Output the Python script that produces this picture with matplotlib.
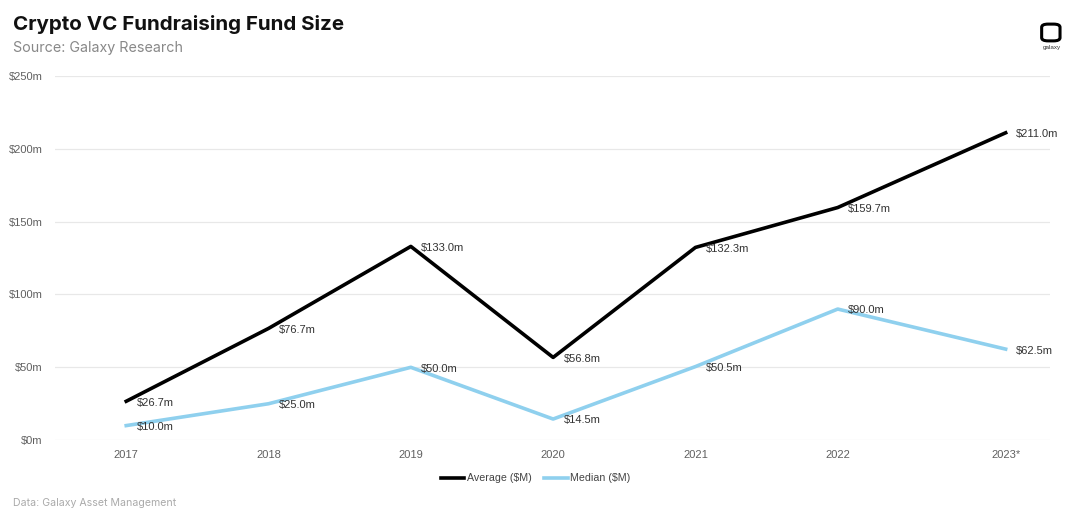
import matplotlib.pyplot as plt
from matplotlib.patches import FancyBboxPatch

years = ["2017", "2018", "2019", "2020", "2021", "2022", "2023*"]
year_pos = [0, 1, 2, 3, 4, 5, 6.18]  # 2023* sits a bit further out in the source
average = [26.7, 76.7, 133.0, 56.8, 132.3, 159.7, 211.0]
median = [10.0, 25.0, 50.0, 14.5, 50.5, 90.0, 62.5]
y_ticks = [0, 50, 100, 150, 200, 250]

plt.rcParams["font.family"] = ["Liberation Sans", "DejaVu Sans"]

fig = plt.figure(figsize=(10.8, 5.24), dpi=100)
ax = fig.add_axes([0.051, 0.160, 0.921, 0.695])

ax.plot(year_pos, average, color="black", lw=2.6, label="Average ($M)", zorder=3)
ax.plot(year_pos, median, color="#8fd0ee", lw=2.6, label="Median ($M)", zorder=3)

for i in range(len(years)):
    ax.annotate("$%.1fm" % average[i], (year_pos[i], average[i]), xytext=(7.5, -1),
                textcoords="offset points", va="center", ha="left",
                fontsize=8, color="#333333", zorder=4)
    ax.annotate("$%.1fm" % median[i], (year_pos[i], median[i]), xytext=(7.5, -1),
                textcoords="offset points", va="center", ha="left",
                fontsize=8, color="#333333", zorder=4)

ax.set_xlim(-0.50, 6.49)
ax.set_ylim(0, 250)
ax.set_xticks(year_pos)
ax.set_xticklabels(years)
ax.set_yticks(y_ticks)
ax.set_yticklabels(["$%dm" % v for v in y_ticks])
ax.tick_params(length=0, labelsize=8, colors="#606060")
ax.tick_params(axis="x", pad=7)
ax.tick_params(axis="y", pad=9)
ax.grid(axis="y", color="#e8e8e8", lw=0.9)
ax.set_axisbelow(True)
for s in ax.spines.values():
    s.set_visible(False)

ax.legend(loc="upper center", bbox_to_anchor=(0.483, -0.065), ncol=2, frameon=False,
          fontsize=7.7, handlelength=2.2, handletextpad=0.2, columnspacing=1.2,
          labelcolor="#444444")

fig.text(0.012, 0.953, "Crypto VC Fundraising Fund Size", fontsize=14.8,
         fontweight="bold", family="Inter", color="#111111", va="center")
fig.text(0.012, 0.908, "Source: Galaxy Research", fontsize=10.3,
         family="Inter", color="#888888", va="center")
fig.text(0.012, 0.04, "Data: Galaxy Asset Management", fontsize=7.6,
         family="Inter", color="#aaaaaa", va="center")

# logo
logo = FancyBboxPatch((0.9675, 0.925), 0.011, 0.026, boxstyle="round,pad=0.003,rounding_size=0.006",
                      transform=fig.transFigure, fill=False, ec="black", lw=2.2)
fig.patches.append(logo)
fig.text(0.9735, 0.910, "galaxy", fontsize=4.5, ha="center", va="center", color="#333333")

fig.savefig("out.png", dpi=100)
